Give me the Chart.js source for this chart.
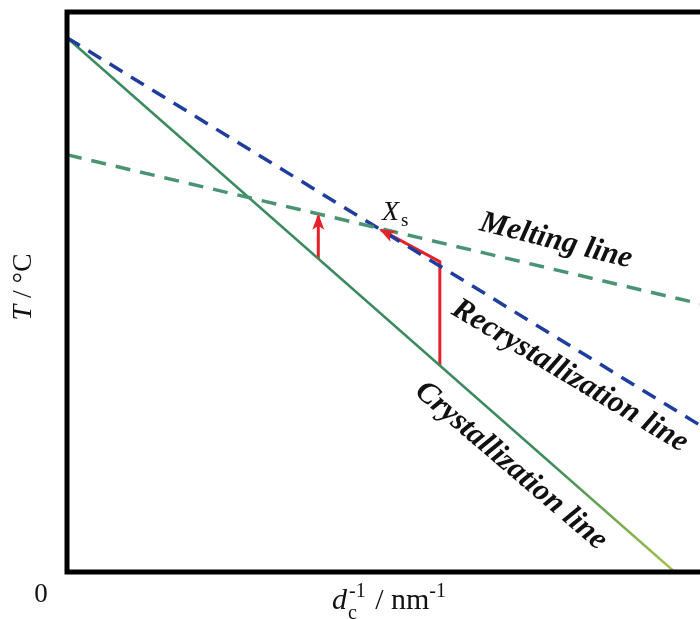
<!DOCTYPE html>
<html>
<head>
<meta charset="utf-8">
<script src="https://cdn.jsdelivr.net/npm/chart.js@4.4.1/dist/chart.umd.min.js"></script>
<style>
  html, body { margin: 0; padding: 0; background: #fff; overflow: hidden; }
  #wrap { width: 700px; height: 619px; position: relative; }
</style>
</head>
<body>
<div id="wrap"><canvas id="phaseChart"></canvas></div>
<script>
// axis ranges (arbitrary units, schematic diagram)
const xRange = [0, 10];
const tRange = [0, 10];

// crystallization line (solid green)
const crystX = [0, 9.6];
const crystT = [9.54, 0];

// recrystallization line (dashed blue)
const recrystX = [0, 10];
const recrystT = [9.54, 2.62];

// melting line (dashed green)
const meltX = [0, 10];
const meltT = [7.45, 4.79];

// red arrows
const arrow1X = [3.97, 3.97];
const arrow1T = [5.59, 6.36];
const arrow2X = [5.89, 5.89, 4.96];
const arrow2T = [3.69, 5.54, 6.11];

// labels
const xTitle = 'd';
const originLabel = '0';

const toPts = (xs, ys) => xs.map((x, i) => ({ x: x, y: ys[i] }));

const serif = '"Liberation Serif", "Times New Roman", serif';

// frame + text annotations
const framePlugin = {
    id: 'frameAndText',
    afterDatasetsDraw(chart) {
        const ctx = chart.ctx;
        const a = chart.chartArea;
        ctx.save();

        // black frame (right side is off the canvas)
        ctx.strokeStyle = '#000';
        ctx.lineWidth = 5;
        ctx.lineCap = 'butt';
        ctx.beginPath();
        ctx.moveTo(a.right + 10, a.top);
        ctx.lineTo(a.left, a.top);
        ctx.lineTo(a.left, a.bottom);
        ctx.lineTo(a.right + 10, a.bottom);
        ctx.stroke();

        ctx.fillStyle = '#111';

        // origin
        ctx.font = '27px ' + serif;
        ctx.textAlign = 'center';
        ctx.textBaseline = 'alphabetic';
        ctx.fillText(originLabel, 41, 602);

        // x title: d_c^-1 / nm^-1
        let x = 332, y = 609;
        ctx.textAlign = 'left';
        ctx.font = 'italic 30px ' + serif;
        ctx.fillText(xTitle, x, y);
        x += ctx.measureText(xTitle).width;
        ctx.font = '20px ' + serif;
        ctx.fillText('c', x + 1, y + 10);
        ctx.fillText('-1', x + 2, y - 12);
        x += ctx.measureText('-1').width + 4;
        ctx.font = '30px ' + serif;
        ctx.fillText(' / nm', x, y);
        x += ctx.measureText(' / nm').width;
        ctx.font = '20px ' + serif;
        ctx.fillText('-1', x, y - 12);

        // y title
        ctx.save();
        ctx.translate(31, 287);
        ctx.rotate(-Math.PI / 2);
        ctx.font = 'italic 28px ' + serif;
        const wT = ctx.measureText('T').width;
        ctx.font = '28px ' + serif;
        const wRest = ctx.measureText(' / °C').width;
        const start = -(wT + wRest) / 2;
        ctx.textAlign = 'left';
        ctx.font = 'italic 28px ' + serif;
        ctx.fillText('T', start, 0);
        ctx.font = '28px ' + serif;
        ctx.fillText(' / °C', start + wT, 0);
        ctx.restore();

        // X_s
        ctx.font = 'italic 28px ' + serif;
        ctx.textAlign = 'left';
        ctx.fillText('X', 382, 220);
        ctx.font = '19px ' + serif;
        ctx.fillText('s', 401, 226);

        // rotated line labels
        const labels = [
            { text: 'Melting line', x: 556, y: 241, deg: 14 },
            { text: 'Recrystallization line', x: 570, y: 376, deg: 31 },
            { text: 'Crystallization line', x: 511, y: 466, deg: 40.5 }
        ];
        ctx.font = 'italic bold 31px ' + serif;
        ctx.textAlign = 'center';
        ctx.textBaseline = 'middle';
        labels.forEach(l => {
            ctx.save();
            ctx.translate(l.x, l.y);
            ctx.rotate(l.deg * Math.PI / 180);
            ctx.fillText(l.text, 0, 0);
            ctx.restore();
        });

        // arrow heads on the red datasets
        const xs = chart.scales.x, ys = chart.scales.y;
        [[arrow1X, arrow1T], [arrow2X, arrow2T]].forEach(([ax, at]) => {
            const n = ax.length;
            const x1 = xs.getPixelForValue(ax[n - 2]), y1 = ys.getPixelForValue(at[n - 2]);
            const x2 = xs.getPixelForValue(ax[n - 1]), y2 = ys.getPixelForValue(at[n - 1]);
            const ang = Math.atan2(y2 - y1, x2 - x1);
            const len = 14, half = 6;
            ctx.save();
            ctx.translate(x2, y2);
            ctx.rotate(ang);
            ctx.fillStyle = '#e8202a';
            ctx.beginPath();
            ctx.moveTo(2, 0);
            ctx.lineTo(-len, -half);
            ctx.lineTo(-len + 4, 0);
            ctx.lineTo(-len, half);
            ctx.closePath();
            ctx.fill();
            ctx.restore();
        });

        ctx.restore();
    }
};

const ctx = document.getElementById('phaseChart');

new Chart(ctx, {
    type: 'scatter',
    data: {
        datasets: [
            {
                data: toPts(meltX, meltT),
                showLine: true,
                borderColor: '#4a9474',
                borderWidth: 3.5,
                borderDash: [15, 10],
                pointRadius: 0
            },
            {
                data: toPts(recrystX, recrystT),
                showLine: true,
                borderColor: '#1f3d9c',
                borderWidth: 3.5,
                borderDash: [15, 10],
                pointRadius: 0
            },
            {
                data: toPts(crystX, crystT),
                showLine: true,
                borderColor: function (c) {
                    const area = c.chart.chartArea;
                    if (!area) return '#3b8a5f';
                    const g = c.chart.ctx.createLinearGradient(0, area.top, 0, area.bottom);
                    g.addColorStop(0, '#3b8a5f');
                    g.addColorStop(0.8, '#3b8a5f');
                    g.addColorStop(1, '#a9c24a');
                    return g;
                },
                borderWidth: 2.5,
                pointRadius: 0
            },
            {
                data: toPts(arrow1X, arrow1T),
                showLine: true,
                borderColor: '#e8202a',
                borderWidth: 3,
                pointRadius: 0
            },
            {
                data: toPts(arrow2X, arrow2T),
                showLine: true,
                borderColor: '#e8202a',
                borderWidth: 3,
                pointRadius: 0
            }
        ]
    },
    options: {
        responsive: true,
        maintainAspectRatio: false,
        animation: false,
        layout: {
            padding: { left: 67, top: 12, right: 0, bottom: 47 }
        },
        plugins: {
            legend: { display: false },
            tooltip: { enabled: false }
        },
        scales: {
            x: { type: 'linear', min: xRange[0], max: xRange[1], display: false },
            y: { type: 'linear', min: tRange[0], max: tRange[1], display: false }
        }
    },
    plugins: [framePlugin]
});
</script>
</body>
</html>
